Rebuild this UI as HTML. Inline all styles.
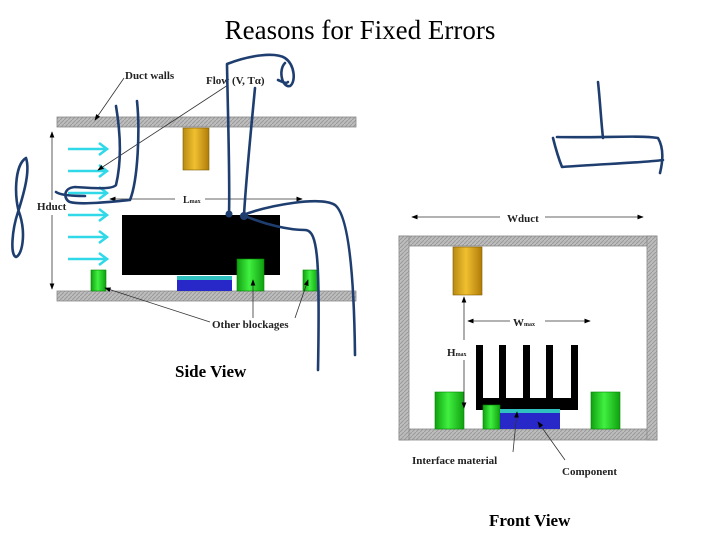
<!DOCTYPE html>
<html><head><meta charset="utf-8"><style>
html,body{margin:0;padding:0;background:#fff;}
svg{display:block;}
</style></head><body>
<svg width="720" height="540" viewBox="0 0 720 540" xmlns="http://www.w3.org/2000/svg">
<defs>
<pattern id="hatch" width="4" height="4" patternUnits="userSpaceOnUse"><rect width="4" height="4" fill="#bdbdbd"/><path d="M0 4L4 0" stroke="#9a9a9a" stroke-width="1"/></pattern>
<linearGradient id="gold" x1="0" x2="1"><stop offset="0" stop-color="#b88a10"/><stop offset="0.45" stop-color="#f0c030"/><stop offset="1" stop-color="#b07c08"/></linearGradient>
<linearGradient id="grn" x1="0" x2="1"><stop offset="0" stop-color="#10a010"/><stop offset="0.45" stop-color="#40f040"/><stop offset="1" stop-color="#10a010"/></linearGradient>
<marker id="ah" markerWidth="8" markerHeight="8" refX="7" refY="4" orient="auto"><path d="M0 1L8 4L0 7z" fill="#000"/></marker>
<marker id="ahc" markerUnits="userSpaceOnUse" markerWidth="12" markerHeight="14" refX="10" refY="7" orient="auto"><path d="M2 1L10 7L2 13" fill="none" stroke="#30d8e8" stroke-width="2.5"/></marker>
</defs>
<text x="360" y="39" font-family="Liberation Serif, serif" font-size="27" text-anchor="middle">Reasons for Fixed Errors</text>

<g font-family="Liberation Serif, serif" font-weight="bold" font-size="11" fill="#222">
<rect x="57" y="117" width="299" height="10" fill="url(#hatch)" stroke="#888" stroke-width="0.8"/>
<rect x="57" y="291" width="299" height="10" fill="url(#hatch)" stroke="#888" stroke-width="0.8"/>
<rect x="183" y="128" width="26" height="42" fill="url(#gold)" stroke="#805a00" stroke-width="0.6"/>
<rect x="122" y="215" width="158" height="60" fill="#000"/>
<rect x="177" y="276" width="55" height="15" fill="#2828c8"/>
<rect x="177" y="276" width="55" height="4" fill="#30c0c0"/>
<rect x="91" y="270" width="15" height="21" fill="url(#grn)" stroke="#080" stroke-width="0.6"/>
<rect x="237" y="259" width="27" height="32" fill="url(#grn)" stroke="#080" stroke-width="0.6"/>
<rect x="303" y="270" width="15" height="21" fill="url(#grn)" stroke="#080" stroke-width="0.6"/>
<g stroke="#30d8e8" stroke-width="2.5" marker-end="url(#ahc)">
<line x1="68" y1="149" x2="107" y2="149"/><line x1="68" y1="171" x2="107" y2="171"/>
<line x1="68" y1="193" x2="107" y2="193"/><line x1="68" y1="215" x2="107" y2="215"/>
<line x1="68" y1="237" x2="107" y2="237"/><line x1="68" y1="259" x2="107" y2="259"/>
</g>
<g stroke="#333" stroke-width="0.8" fill="none">
<line x1="52" y1="200" x2="52" y2="132" marker-end="url(#ah)"/>
<line x1="52" y1="215" x2="52" y2="289" marker-end="url(#ah)"/>
<line x1="175" y1="199" x2="110" y2="199" marker-end="url(#ah)"/>
<line x1="205" y1="199" x2="302" y2="199" marker-end="url(#ah)"/>
<line x1="124" y1="78" x2="95" y2="120" marker-end="url(#ah)"/>
<line x1="228" y1="85" x2="98" y2="170" marker-end="url(#ah)"/>
<line x1="210" y1="322" x2="105" y2="288" marker-end="url(#ah)"/>
<line x1="253" y1="318" x2="253" y2="280" marker-end="url(#ah)"/>
<line x1="295" y1="318" x2="308" y2="280" marker-end="url(#ah)"/>
</g>
<text x="125" y="79">Duct walls</text>
<text x="206" y="84">Flow (V, Tα)</text>
<text x="37" y="210">Hduct</text>
<text x="183" y="203" font-size="10">L<tspan font-size="6">max</tspan></text>
<text x="212" y="328">Other blockages</text>
<text x="175" y="377" font-size="17" fill="#000">Side View</text>

<rect x="399" y="236" width="258" height="10" fill="url(#hatch)" stroke="#888" stroke-width="0.8"/>
<rect x="399" y="429" width="258" height="11" fill="url(#hatch)" stroke="#888" stroke-width="0.8"/>
<rect x="399" y="236" width="10" height="204" fill="url(#hatch)" stroke="#888" stroke-width="0.8"/>
<rect x="647" y="236" width="10" height="204" fill="url(#hatch)" stroke="#888" stroke-width="0.8"/>
<rect x="453" y="247" width="29" height="48" fill="url(#gold)" stroke="#805a00" stroke-width="0.6"/>
<g fill="#000">
<rect x="476" y="398" width="102" height="12"/>
<rect x="476" y="345" width="7" height="60"/><rect x="499" y="345" width="7" height="60"/>
<rect x="523" y="345" width="7" height="60"/><rect x="546" y="345" width="7" height="60"/>
<rect x="571" y="345" width="7" height="60"/>
</g>
<rect x="435" y="392" width="29" height="37" fill="url(#grn)" stroke="#080" stroke-width="0.6"/>
<rect x="483" y="405" width="17" height="24" fill="url(#grn)" stroke="#080" stroke-width="0.6"/>
<rect x="591" y="392" width="29" height="37" fill="url(#grn)" stroke="#080" stroke-width="0.6"/>
<rect x="500" y="413" width="60" height="16" fill="#2828c8"/>
<rect x="500" y="409" width="60" height="4" fill="#30c0c0"/>
<g stroke="#333" stroke-width="0.8" fill="none">
<line x1="500" y1="217" x2="412" y2="217" marker-end="url(#ah)"/>
<line x1="545" y1="217" x2="643" y2="217" marker-end="url(#ah)"/>
<line x1="510" y1="321" x2="468" y2="321" marker-end="url(#ah)"/>
<line x1="545" y1="321" x2="590" y2="321" marker-end="url(#ah)"/>
<line x1="464" y1="340" x2="464" y2="297" marker-end="url(#ah)"/>
<line x1="464" y1="360" x2="464" y2="408" marker-end="url(#ah)"/>
<line x1="513" y1="452" x2="517" y2="412" marker-end="url(#ah)"/>
<line x1="565" y1="460" x2="538" y2="422" marker-end="url(#ah)"/>
</g>
<text x="507" y="222">Wduct</text>
<text x="513" y="326" font-size="11">W<tspan font-size="6">max</tspan></text>
<text x="447" y="356" font-size="11">H<tspan font-size="6">max</tspan></text>
<text x="412" y="464">Interface material</text>
<text x="562" y="475">Component</text>
<text x="489" y="526" font-size="17" fill="#000">Front View</text>
</g>

<g stroke="#1f3e70" stroke-width="2.6" fill="none" stroke-linecap="round" stroke-linejoin="round">
<path d="M116 106 C120 130,122 160,116 185 C112 190,90 188,75 187 C62 188,64 200,70 202 C80 205,110 202,130 200 C138 180,140 130,137 101"/>
<path d="M56 192 C60 195,70 196,85 196"/>
<path d="M26 158 C14 165,14 200,20 215 C26 235,22 255,16 257 C10 255,12 230,18 212 C25 190,30 170,26 158"/>
<path d="M229 214 C230 180,228 120,227 64 C250 55,275 52,285 58 C295 65,296 82,290 86 C282 88,278 70,285 63"/>
<path d="M278 80 C283 82,286 84,288 82"/>
<path d="M244 215 C246 180,250 140,255 88"/>
<path d="M243 215 C270 205,320 196,335 205 C348 215,354 270,355 355"/>
<path d="M243 215 C265 225,290 230,305 230 C318 230,320 260,318 370"/>
<path d="M598 82 C600 100,601 120,603 138"/>
<path d="M557 137 C600 138,640 135,658 138 C665 150,662 165,660 173"/>
<path d="M553 138 C556 150,560 162,562 167 C600 164,640 163,663 160"/>
</g>
<circle cx="229" cy="214" r="3.5" fill="#1f3e70"/>
<circle cx="244" cy="216" r="4" fill="#1f3e70"/>
</svg>
</body></html>
